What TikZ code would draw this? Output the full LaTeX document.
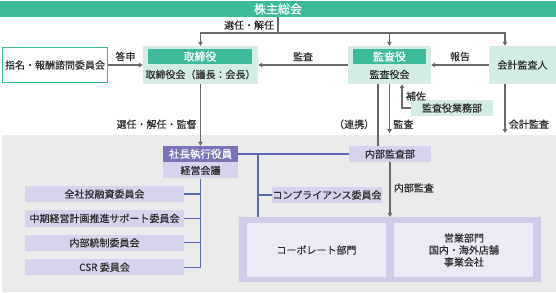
\documentclass[tikz,border=0pt]{standalone}
\usepackage{fontspec}
\setmainfont{Noto Sans CJK JP}[FakeBold=0.4]
\usetikzlibrary{arrows.meta,positioning,calc}
\definecolor{mgreen}{RGB}{61,186,156}
\definecolor{lgreen}{RGB}{212,237,228}
\definecolor{mpurple}{RGB}{122,115,184}
\definecolor{lpurple}{RGB}{214,211,236}
\definecolor{gpurple}{RGB}{208,204,232}
\definecolor{ipurple}{RGB}{236,234,246}
\definecolor{bggray}{RGB}{235,235,235}
\definecolor{lgray}{RGB}{105,105,105}
\definecolor{lblue}{RGB}{90,105,180}
\definecolor{ink}{RGB}{45,45,45}

\begin{document}
\begin{tikzpicture}[x=1pt, y=-1pt, >={Triangle[width=4.5pt,length=4pt]},
  font=\fontsize{10}{12}\selectfont, text=ink, node distance=7.5pt and 8pt,
  box/.style={rectangle, inner sep=0pt, minimum height=16pt},
  greenhead/.style={box, fill=mgreen, text=white, minimum height=15pt, font=\fontsize{11}{12}\selectfont},
  greenbox/.style={box, fill=lgreen},
  purplehead/.style={box, fill=mpurple, text=white, font=\fontsize{10.5}{12}\selectfont},
  purplebox/.style={box, fill=lpurple},
  committee/.style={purplebox, minimum width=159pt, minimum height=16.5pt},
  unit/.style={box, fill=ipurple, minimum width=139pt, minimum height=54pt, align=center},
  line/.style={draw=lgray, line width=1.1pt},
  blueline/.style={draw=lblue, line width=1.1pt}]
  \useasboundingbox (0,0) rectangle (556,292);
  \fill[bggray] (2,135) rectangle (556,292);

  % Define nodes
  \node[box, fill=mgreen, text=white, minimum width=556pt, font=\fontsize{12}{12}\selectfont] (shareholders) at (278,9) {株主総会};
  \node[box, draw=mgreen, line width=1.2pt, fill=white, minimum width=105pt, minimum height=35pt] (nomination) at (55,65) {指名・報酬諮問委員会};
  \node[greenbox, minimum width=115pt, minimum height=38pt] (board) at (200.5,65) {};
  \node[greenhead, minimum width=104pt] (boardhead) at (200,56.5) {取締役};
  \node (boardsub) at (200.5,74.5) {取締役会（議長：会長）};
  \node[greenbox, minimum width=83pt, minimum height=38pt] (auditor) at (389.5,65) {};
  \node[greenhead, minimum width=73pt] (auditorhead) at (389.5,56.5) {監査役};
  \node (auditorsub) at (389.5,74.5) {監査役会};
  \node[greenbox, minimum width=67pt, minimum height=38pt] (accountant) at (522.5,65) {会計監査人};
  \node[greenbox, minimum width=82pt] (auditstaff) at (452,108) {監査役業務部};

  \node[purplehead, minimum width=75pt] (president) at (200.5,154) {社長執行役員};
  \node[purplebox, minimum width=75pt, below=0pt of president] (execmeeting) {経営会議};
  \node[committee] (invest) at (104.5,194) {全社投融資委員会};
  \node[committee, below=of invest] (midterm) {中期経営計画推進サポート委員会};
  \node[committee, below=of midterm] (control) {内部統制委員会};
  \node[committee, below=of control] (csr) {CSR 委員会};
  \node[purplebox, minimum width=82pt] (internalaudit) at (390,154) {内部監査部};
  \node[purplebox, minimum width=110pt] (compliance) at (327,195) {コンプライアンス委員会};
  \node[box, fill=gpurple, minimum width=302pt, minimum height=65pt] (group) at (390,249.5) {};
  \node[unit] (corporate) at (316.5,250) {コーポレート部門};
  \node[unit, right=of corporate] (sales) {営業部門\\国内・海外店舗\\事業会社};

  \coordinate (topsplit) at (278,33);
  \coordinate (auditend) at (389.5,133);
  \coordinate (acctend) at (505,133);
  \coordinate (compjoin) at (258,154);

  % Draw arrows
  \draw[line] (shareholders.south) -- node[left] {選任・解任} (topsplit);
  \draw[line,->] (topsplit) -| (board.north);
  \draw[line,->] (topsplit) -| (auditor.north);
  \draw[line,->] (topsplit) -| ([xshift=-17.5pt]accountant.north);
  \draw[line,->] (nomination.east) -- node[above] {答申} (nomination.east -| board.west);
  \draw[line,->] (auditor.west) -- node[above] {監査} (board.east);
  \draw[line,->] (accountant.west) -- node[above] {報告} (auditor.east);
  \draw[line,->] (board.south) -- node[pos=.65, left] {選任・解任・監督} (president.north);
  \draw[line] ([xshift=-11.5pt]auditor.south) -- node[pos=.65, left] {（連携）} ([xshift=-11.5pt]auditor.south |- internalaudit.north);
  \draw[line,->] (auditor.south) -- node[pos=.82, right] {監査} (auditend);
  \draw[line,->] (auditstaff.west) -| node[pos=.75, right] {補佐} ([xshift=12.5pt]auditor.south);
  \draw[line,->] ([xshift=-17.5pt]accountant.south) -- node[pos=.82, right] {会計監査} (acctend);
  \draw[line,->] (internalaudit.south) -- node[pos=.47, right] {内部監査} (internalaudit.south |- group.north);

  % Draw lines
  \draw[blueline] (execmeeting.south) -- (execmeeting.south |- csr.east);
  \foreach \c in {invest,midterm,control,csr}
    \draw[blueline] (\c.east) -- (\c.east -| execmeeting.south);
  \draw[blueline] (president.east) -- (internalaudit.west);
  \draw[blueline] (compjoin) -- (compjoin |- group.north);
  \draw[blueline] (compliance.west) -- (compliance.west -| compjoin);
\end{tikzpicture}
\end{document}
